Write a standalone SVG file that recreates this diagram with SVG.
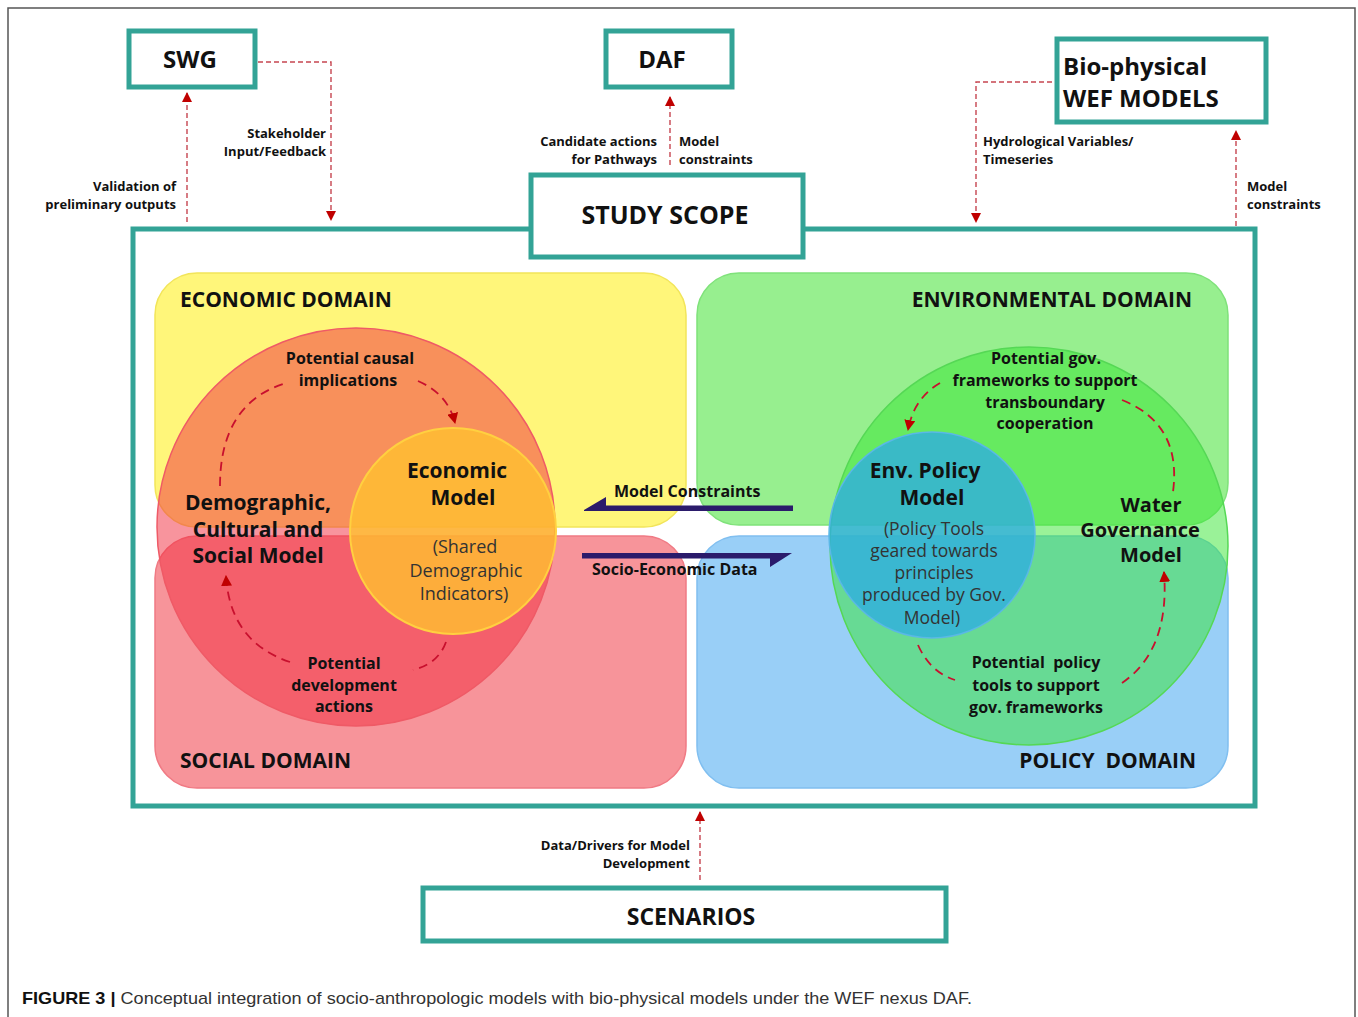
<svg xmlns="http://www.w3.org/2000/svg" width="1358" height="1017" viewBox="0 0 1358 1017">
<defs>
<style>
.box{fill:#fff;stroke:#33a396;stroke-width:5}
.b{font-family:"Open Sans","DejaVu Sans",sans-serif;font-weight:bold;fill:#111}
.r{font-family:"Open Sans","DejaVu Sans",sans-serif;fill:#333}
.sm{font-size:13px}
.lbl{font-size:16px}
.mdl{font-size:21px}
.dom{font-size:21px}
.par{font-size:17.5px}
.dash{fill:none;stroke:#c64550;stroke-width:1.4;stroke-dasharray:5,3}
.loop{fill:none;stroke:#c8102e;stroke-width:1.8;stroke-dasharray:9,6}
.nav{fill:#2b1b6b}
</style>
<marker id="ah" viewBox="0 0 10 10" refX="9" refY="5" markerWidth="10" markerHeight="10" markerUnits="userSpaceOnUse" orient="auto">
<path d="M0,0 L10,5 L0,10 Z" fill="#c00000"/>
</marker>
<marker id="ah2" viewBox="0 0 10 10" refX="9" refY="5" markerWidth="11" markerHeight="11" markerUnits="userSpaceOnUse" orient="auto">
<path d="M0,0 L10,5 L0,10 Z" fill="#c00000"/>
</marker>
</defs>
<rect width="1358" height="1017" fill="#fff"/>
<path d="M8,1017 V8 H1355 V1017" fill="none" stroke="#555" stroke-width="1.5"/>

<g id="main-frame">
<rect x="133" y="229" width="1122" height="577" fill="#fff" stroke="#33a396" stroke-width="5"/>
</g>

<g id="economic-domain">
<rect x="155" y="273" width="531" height="254" rx="42" fill="#fff67a" stroke="#f2e55a" stroke-width="1.5"/>
<text class="b dom" x="180" y="307">ECONOMIC DOMAIN</text>
</g>
<g id="environmental-domain">
<rect x="697" y="273" width="531" height="252" rx="42" fill="#97ef8f" stroke="#7fe27a" stroke-width="1.5"/>
<text class="b dom" x="1192" y="307" text-anchor="end">ENVIRONMENTAL DOMAIN</text>
</g>
<g id="social-domain">
<rect x="155" y="536" width="531" height="252" rx="42" fill="#f7949a" stroke="#f07a84" stroke-width="1.5"/>
<text class="b dom" x="180" y="768">SOCIAL DOMAIN</text>
</g>
<g id="policy-domain">
<rect x="697" y="536" width="531" height="252" rx="42" fill="#99cff7" stroke="#80bff0" stroke-width="1.5"/>
<text class="b dom" x="1196" y="768" text-anchor="end" xml:space="preserve">POLICY  DOMAIN</text>
</g>

<g id="demographic-model">
<circle cx="356" cy="527" r="199" fill="#f22a3c" fill-opacity="0.5" stroke="#ef5a66" stroke-width="1.5"/>
<text class="b mdl" text-anchor="middle"><tspan x="258" y="510">Demographic,</tspan><tspan x="258" y="537">Cultural and</tspan><tspan x="258" y="563">Social Model</tspan></text>
</g>
<g id="economic-model">
<circle cx="453" cy="531" r="103" fill="#ffc030" fill-opacity="0.8" stroke="#ffd040" stroke-width="2"/>
<text class="b mdl" text-anchor="middle"><tspan x="457" y="478">Economic</tspan><tspan x="463" y="505">Model</tspan></text>
<text class="r" font-size="18" text-anchor="middle"><tspan x="465" y="553">(Shared</tspan><tspan x="466" y="577">Demographic</tspan><tspan x="464" y="600">Indicators)</tspan></text>
</g>

<g id="water-governance-model">
<circle cx="1029" cy="546" r="199" fill="#36e532" fill-opacity="0.5" stroke="#55d855" stroke-width="1.5"/>
<text class="b" font-size="20" text-anchor="middle" x="1151" y="512">Water</text>
<text class="b" font-size="20" text-anchor="middle" x="1140" y="537">Governance</text>
<text class="b" font-size="20" text-anchor="middle" x="1151" y="562">Model</text>
</g>
<g id="env-policy-model">
<circle cx="932" cy="535" r="103" fill="#30aee0" fill-opacity="0.8" stroke="#5ab8e6" stroke-width="1.5"/>
<text class="b mdl" text-anchor="middle"><tspan x="925" y="478">Env. Policy</tspan><tspan x="932" y="505">Model</tspan></text>
<text class="r par" text-anchor="middle"><tspan x="934" y="535">(Policy Tools</tspan><tspan x="934" y="557">geared towards</tspan><tspan x="934" y="579">principles</tspan><tspan x="934" y="601">produced by Gov.</tspan><tspan x="932" y="624">Model)</tspan></text>
</g>

<g id="loop-labels">
<text class="b lbl" text-anchor="middle"><tspan x="350" y="364">Potential causal</tspan><tspan x="348" y="386">implications</tspan></text>
<text class="b lbl" text-anchor="middle"><tspan x="344" y="669">Potential</tspan><tspan x="344" y="691">development</tspan><tspan x="344" y="712">actions</tspan></text>
<text class="b lbl" text-anchor="middle"><tspan x="1046" y="364">Potential gov.</tspan><tspan x="1045" y="386">frameworks to support</tspan><tspan x="1045" y="408">transboundary</tspan><tspan x="1045" y="429">cooperation</tspan></text>
<text class="b lbl" text-anchor="middle" xml:space="preserve"><tspan x="1036" y="668">Potential  policy</tspan><tspan x="1036" y="691">tools to support</tspan><tspan x="1036" y="713">gov. frameworks</tspan></text>
</g>

<g id="study-scope">
<rect class="box" x="531" y="175" width="272" height="82" stroke-width="4"/>
<text class="b" font-size="25" x="665" y="224" text-anchor="middle" fill="#222">STUDY SCOPE</text>
</g>
<g id="swg">
<rect class="box" x="129" y="31" width="126" height="56"/>
<text class="b" font-size="24" x="190" y="68" text-anchor="middle">SWG</text>
</g>
<g id="daf">
<rect class="box" x="606" y="31" width="126" height="56"/>
<text class="b" font-size="24" x="662" y="68" text-anchor="middle">DAF</text>
</g>
<g id="biophysical">
<rect class="box" x="1057" y="39" width="209" height="83"/>
<text class="b" font-size="24"><tspan x="1063" y="75">Bio-physical</tspan><tspan x="1063" y="107">WEF MODELS</tspan></text>
</g>
<g id="scenarios">
<rect class="box" x="423" y="888" width="523" height="53"/>
<text class="b" font-size="23" x="691" y="925" text-anchor="middle">SCENARIOS</text>
</g>

<g id="connectors">
<path class="dash" d="M187,222 V93" marker-end="url(#ah)"/>
<path class="dash" d="M258,62 H331 V220" marker-end="url(#ah)"/>
<path class="dash" d="M670,165 V97" marker-end="url(#ah)"/>
<path class="dash" d="M1052,82 H976 V222" marker-end="url(#ah)"/>
<path class="dash" d="M1236,226 V131" marker-end="url(#ah)"/>
<path class="dash" d="M700,880 V812" marker-end="url(#ah)"/>

<path class="nav" d="M584,510 L606,497 L606,505.5 L793,505.5 L793,511 L584,511 Z"/>
<path class="nav" d="M582,553 L792,553 L770,567 L770,558.5 L582,558.5 Z"/>

<path class="loop" d="M220,486 Q220,405 283,384"/>
<path class="loop" d="M418,381 Q448,394 455,423" marker-end="url(#ah2)"/>
<path class="loop" d="M446,642 Q438,664 413,670"/>
<path class="loop" d="M290,662 Q230,642 226,576" marker-end="url(#ah2)"/>
<path class="loop" d="M940,383 Q914,398 908,430" marker-end="url(#ah2)"/>
<path class="loop" d="M1122,400 Q1182,424 1173,492"/>
<path class="loop" d="M918,645 Q930,672 955,680"/>
<path class="loop" d="M1122,683 Q1170,650 1164,572" marker-end="url(#ah2)"/>
</g>

<g id="connector-labels">
<text class="b sm" text-anchor="end"><tspan x="326" y="138">Stakeholder</tspan><tspan x="326" y="156">Input/Feedback</tspan></text>
<text class="b sm" text-anchor="end"><tspan x="176" y="191">Validation of</tspan><tspan x="176" y="209">preliminary outputs</tspan></text>
<text class="b sm" text-anchor="end"><tspan x="657" y="146">Candidate actions</tspan><tspan x="657" y="164">for Pathways</tspan></text>
<text class="b sm"><tspan x="679" y="146">Model</tspan><tspan x="679" y="164">constraints</tspan></text>
<text class="b sm"><tspan x="983" y="146">Hydrological Variables/</tspan><tspan x="983" y="164">Timeseries</tspan></text>
<text class="b sm"><tspan x="1247" y="191">Model</tspan><tspan x="1247" y="209">constraints</tspan></text>
<text class="b sm" text-anchor="end"><tspan x="690" y="850">Data/Drivers for Model</tspan><tspan x="690" y="868">Development</tspan></text>
<text class="b" font-size="16" x="614" y="497">Model Constraints</text>
<text class="b" font-size="16" x="592" y="575">Socio-Economic Data</text>
</g>

<text x="22" y="1004" font-family="'Liberation Sans',Arial,sans-serif" font-size="17" fill="#333" textLength="950" lengthAdjust="spacingAndGlyphs"><tspan font-weight="bold" fill="#111">FIGURE 3 |</tspan> Conceptual integration of socio-anthropologic models with bio-physical models under the WEF nexus DAF.</text>
</svg>
